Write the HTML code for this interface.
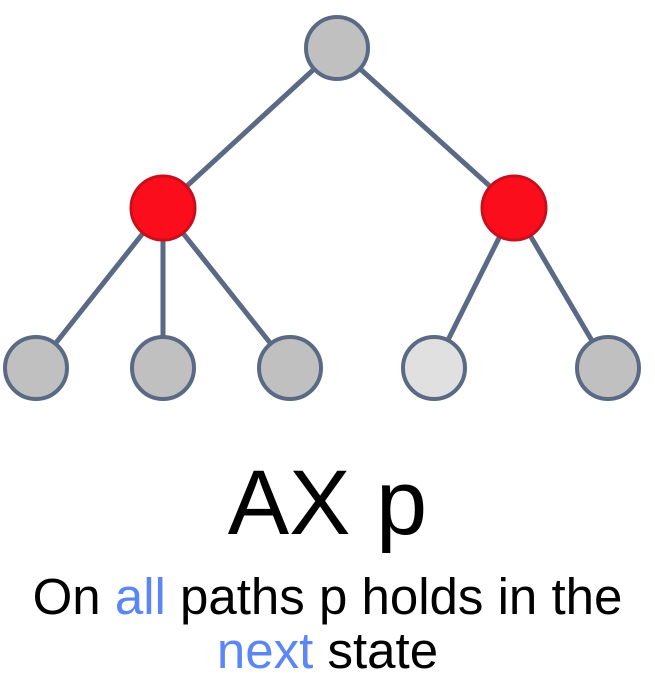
<!DOCTYPE html>
<html><head><style>
body{margin:0;width:655px;height:700px;background:#fff;overflow:hidden}
.t{position:absolute;left:0;width:655px;text-align:center;font-family:"Liberation Sans",sans-serif;color:#000;white-space:nowrap}
.b{color:#5b86f5}
</style></head><body>
<svg width="655" height="440" style="position:absolute;left:0;top:0">
<g stroke="#5a6a85" stroke-width="5">
<line x1="337" y1="48" x2="163" y2="208"/><line x1="337" y1="48" x2="514" y2="208"/>
<line x1="163" y1="208" x2="36" y2="368"/><line x1="163" y1="208" x2="163" y2="368"/><line x1="163" y1="208" x2="290" y2="368"/>
<line x1="514" y1="208" x2="434" y2="368"/><line x1="514" y1="208" x2="608" y2="368"/>
</g>
<g stroke="#5a6a85" stroke-width="4" fill="#c0c0c0">
<circle cx="337" cy="48" r="31"/>
<circle cx="36" cy="368" r="31"/><circle cx="163" cy="368" r="31"/><circle cx="290" cy="368" r="31"/>
<circle cx="434" cy="368" r="31" fill="#e0e0e0"/><circle cx="608" cy="368" r="31"/>
</g>
<g stroke="#c8101c" stroke-width="3" fill="#fc0d1c">
<circle cx="163" cy="208" r="32"/><circle cx="514" cy="208" r="32"/>
</g>
</svg>
<div class="t" style="top:457px;font-size:92px;line-height:92px">AX p</div>
<div class="t" style="top:571px;font-size:51px;line-height:51px">On <span class="b">all</span> paths p holds in the</div>
<div class="t" style="top:625px;font-size:51px;line-height:51px"><span class="b">next</span> state</div>
</body></html>
